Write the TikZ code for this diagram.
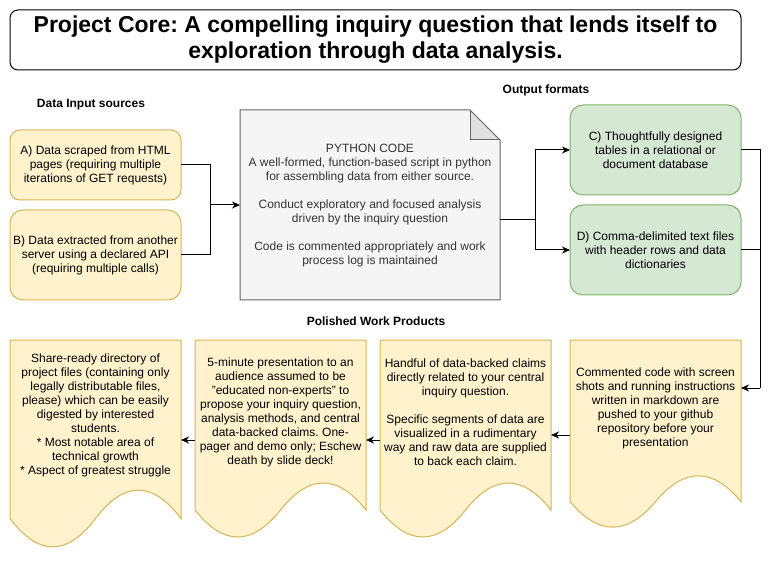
\documentclass[tikz,border=0pt]{standalone}
\usepackage{fontspec}
\setmainfont{Liberation Sans}
\usepackage{tikz}
\usetikzlibrary{arrows.meta}
\definecolor{srcfill}{HTML}{FFF2CC}
\definecolor{srcline}{HTML}{D6B656}
\definecolor{outfill}{HTML}{D5E8D4}
\definecolor{outstroke}{HTML}{82B366}
\definecolor{notefill}{HTML}{F5F5F5}
\definecolor{notefold}{HTML}{E0E0E0}
\definecolor{noteline}{HTML}{666666}
\definecolor{notetext}{HTML}{333333}
\frenchspacing

\tikzset{
  boxtext/.style={align=center, font=\fontsize{12}{14}\selectfont, inner sep=0pt, outer sep=0pt},
  srcbox/.style={boxtext, draw=srcline, fill=srcfill, line width=1pt, rounded corners=13pt, minimum width=171pt},
  outbox/.style={boxtext, draw=outstroke, fill=outfill, line width=1pt, rounded corners=13pt, minimum width=171pt, minimum height=90pt},
  docframe/.style={inner sep=0pt, outer sep=0pt, minimum width=171pt},
  heading/.style={font=\fontsize{12}{14}\selectfont\bfseries},
  flowline/.style={line width=1pt, black},
  flow/.style={flowline, -{Stealth[length=8pt, width=7pt, inset=2.5pt]}},
}

% wavy document outline: x, y, width, height
\newcommand{\docshape}[4]{%
  \draw[draw=srcline, fill=srcfill, line width=1pt] (#1,#2) -- ++(#3,0) -- ({#1+#3},{#2+0.85*#4})
    .. controls ({#1+5*#3/6},{#2+0.67*#4}) and ({#1+2*#3/3},{#2+0.67*#4}) .. ({#1+#3/2},{#2+0.85*#4})
    .. controls ({#1+#3/3},{#2+1.03*#4}) and ({#1+#3/6},{#2+1.03*#4}) .. (#1,{#2+0.85*#4}) -- cycle;}

\begin{document}
\begin{tikzpicture}[x=1pt, y=-1pt]
  \useasboundingbox (0,0) rectangle (779,561);

  % Title
  \node[draw, line width=1pt, rounded corners=8pt, minimum width=731pt, minimum height=60pt, align=center,
        font=\fontsize{23}{26}\selectfont\bfseries] (core) at (375.5,40)
    {Project Core: A compelling inquiry question that lends itself to\\ exploration through data analysis.};

  % Headings
  \node[heading] (inputhead) at (91,105) {Data Input sources};
  \node[heading] (outputhead) at (546,90) {Output formats};
  \node[heading] (producthead) at (376,321) {Polished Work Products};

  % Data sources
  \node[srcbox, rounded corners=10pt, minimum height=70pt] (srchtml) at (95.5,165)
    {A) Data scraped from HTML\\ pages (requiring multiple\\ iterations of GET requests)};
  \node[srcbox, minimum height=90pt] (srcapi) at (95.5,255)
    {B) Data extracted from another\\ server using a declared API\\ (requiring multiple calls)};

  % Python code note
  \fill[notefill] (240,110) -- (470,110) -- (500,140) -- (500,300) -- (240,300) -- cycle;
  \fill[notefold] (470,110) -- (470,140) -- (500,140) -- cycle;
  \draw[noteline, line width=1pt] (240,110) -- (470,110) -- (500,140) -- (500,300) -- (240,300) -- cycle;
  \draw[noteline, line width=1pt] (470,110) -- (470,140) -- (500,140);
  \node[docframe, minimum width=260pt, minimum height=190pt] (pycode) at (370,205) {};
  \node[boxtext, text=notetext] (pytext) at (370,206)
    {PYTHON CODE\\ A well-formed, function-based script in python\\ for assembling data from either source.\\[14pt]
     Conduct exploratory and focused analysis\\ driven by the inquiry question\\[14pt]
     Code is commented appropriately and work\\ process log is maintained};

  % Output formats
  \node[outbox] (dbtables) at (655.5,150)
    {C) Thoughtfully designed\\ tables in a relational or\\ document database};
  \node[outbox] (csvfiles) at (655.5,250)
    {D) Comma-delimited text files\\ with header rows and data\\ dictionaries};

  % Work products
  \docshape{570}{340}{171}{190}
  \docshape{380}{340}{171}{200}
  \docshape{195}{340}{171}{200}
  \docshape{10}{340}{171}{210}
  \node[docframe, minimum height=190pt] (shots) at (655.5,435) {};
  \node[docframe, minimum height=200pt] (claims) at (465.5,440) {};
  \node[docframe, minimum height=200pt] (deck) at (280.5,440) {};
  \node[docframe, minimum height=210pt] (sharedir) at (95.5,445) {};

  \node[boxtext] (shotstext) at (655.5,408)
    {Commented code with screen\\ shots and running instructions\\ written in markdown are\\ pushed to your github\\ repository before your\\ presentation};
  \node[boxtext] (claimstext) at (465.5,412)
    {Handful of data-backed claims\\ directly related to your central\\ inquiry question.\\[14pt]
     Specific segments of data are\\ visualized in a rudimentary\\ way and raw data are supplied\\ to back each claim.};
  \node[boxtext] (decktext) at (280.5,412)
    {5-minute presentation to an\\ audience assumed to be\\ \symbol{34}educated non-experts\symbol{34} to\\ propose your inquiry question,\\ analysis methods, and central\\ data-backed claims. One-\\ pager and demo only; Eschew\\ death by slide deck!};
  \node[boxtext] (sharetext) at (95.5,415)
    {Share-ready directory of\\ project files (containing only\\ legally distributable files,\\ please) which can be easily\\ digested by interested\\ students.\\ * Most notable area of\\ technical growth\\ * Aspect of greatest struggle};

  % Connectors
  \coordinate (injoin) at (210,205);
  \draw[flowline] (srchtml.east) -| (injoin);
  \draw[flowline] (srcapi.east) -| (injoin);
  \draw[flow] (injoin) -- (pycode.west);

  \coordinate (outjoin) at (535,220);
  \draw[flowline] (pycode.east |- outjoin) -- (outjoin);
  \draw[flow] (outjoin) |- (dbtables.west);
  \draw[flow] (outjoin) |- (csvfiles.west);

  \coordinate (pushjoin) at (760,388);
  \draw[flowline] (dbtables.east) -| (pushjoin);
  \draw[flowline] (csvfiles.east) -| (pushjoin);
  \draw[flow] (pushjoin) -- (shots.east |- pushjoin);

  \draw[flow] (shots.west) -- (shots.west -| claims.east);
  \draw[flow] (claims.west) -- (deck.east);
  \draw[flow] (deck.west) -- (deck.west -| sharedir.east);
\end{tikzpicture}
\end{document}
